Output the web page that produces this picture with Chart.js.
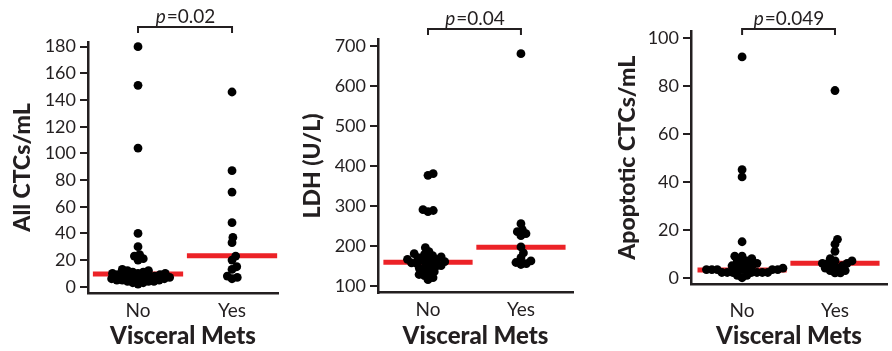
<!DOCTYPE html>
<html><head><meta charset="utf-8">
<script src="https://cdn.jsdelivr.net/npm/chart.js@4/dist/chart.umd.min.js"></script>
<style>
html,body{margin:0;padding:0;background:#fff;}
#wrap{position:relative;width:892px;height:351px;overflow:hidden;background:#fff;}
.p{position:absolute;top:0;height:351px;}
</style></head><body>
<div id="wrap">
<div class="p" style="left:0;width:290px"><canvas id="c1"></canvas></div>
<div class="p" style="left:290px;width:310px"><canvas id="c2"></canvas></div>
<div class="p" style="left:600px;width:292px"><canvas id="c3"></canvas></div>
</div>
<script>
// ---- data ----
const categories = ['No', 'Yes'];
const xTitle = 'Visceral Mets';

const allCtcNo = [180, 151, 104, 40, 30, 24, 23, 21, 20, 13, 12, 12, 11, 11, 10, 10, 10, 9, 9, 9, 8, 8, 8, 7, 7, 7, 6, 6, 6, 5, 5, 5, 4, 4, 4, 3, 3, 2];
const allCtcYes = [146, 87, 71, 48, 37, 33, 23, 20, 15, 13, 8, 7, 6];
const allCtcMedian = [9.5, 23.3];
const allCtcTicks = [0, 20, 40, 60, 80, 100, 120, 140, 160, 180];

const ldhNo = [380, 376, 290, 288, 285, 195, 185, 180, 178, 175, 172, 170, 168, 166, 165, 163, 160, 158, 157, 155, 153, 150, 148, 145, 143, 140, 135, 132, 128, 125, 120, 115];
const ldhYes = [680, 255, 240, 235, 230, 225, 197, 182, 170, 162, 158, 155, 153];
const ldhMedian = [158.5, 196];
const ldhTicks = [100, 200, 300, 400, 500, 600, 700];

const apoNo = [92, 45, 42, 15, 9, 9, 8, 7, 7, 6, 6, 5, 5, 4, 4, 4, 3.4, 3.4, 3.4, 3.4, 3.4, 3.4, 2.2, 2.2, 2.2, 2.2, 2.2, 2.2, 2.2, 1, 1, 0];
const apoYes = [78, 16, 14, 11, 8, 7, 7, 6, 6, 6, 5, 5, 4, 4, 3, 3, 2, 2];
const apoMedian = [3.2, 6];
const apoTicks = [0, 20, 40, 60, 80, 100];

const pValues = ['0.02', '0.04', '0.049'];
const yTitles = ['All CTCs/mL', 'LDH (U/L)', 'Apoptotic CTCs/mL'];

// ---- styling / layout ----
const INK = '#231f20';
const RED = '#ec2227';
const FONT = 'Lato, "Open Sans", sans-serif';
const TITLE_FONT = '"Lato Black", "Lato Heavy", Lato, "Open Sans", sans-serif';
const DOT_R = 4.4;
const SWARM_D = 5.4;
const MED_HALF = 0.48;

const panels = [
  {id:'c1', no:allCtcNo, yes:allCtcYes, med:allCtcMedian, ticks:allCtcTicks, yMin:-4.7, yMax:183.5,
   xMin:0.468, xMax:2.489, axisW:88, padTop:42, padRight:12, xAxisH:58, xTickPad:6, yTitlePad:9,
   p:pValues[0], title:yTitles[0], bracketY:27},
  {id:'c2', no:ldhNo, yes:ldhYes, med:ldhMedian, ticks:ldhTicks, yMin:82.5, yMax:716,
   xMin:0.462, xMax:2.56, axisW:88, padTop:39.3, padRight:27, xAxisH:58.3, xTickPad:6, yTitlePad:9,
   p:pValues[1], title:yTitles[1], bracketY:29},
  {id:'c3', no:apoNo, yes:apoYes, med:apoMedian, ticks:apoTicks, yMin:-2.6, yMax:102.5,
   xMin:0.45, xMax:2.56, axisW:91, padTop:31.7, padRight:5, xAxisH:67, xTickPad:15, yTitlePad:14,
   p:pValues[2], title:yTitles[2], bracketY:29}
];

function swarm(values, center, xs, ys, d) {
  const order = values.map((v, i) => i).sort((a, b) => values[a] - values[b]);
  const placed = [];
  const cx = xs.getPixelForValue(center);
  const out = new Array(values.length);
  for (const i of order) {
    const py = ys.getPixelForValue(values[i]);
    const cands = [0];
    for (const p of placed) {
      const dy = Math.abs(p.py - py);
      if (dy < d) {
        const dx = Math.sqrt(d * d - dy * dy);
        cands.push(p.ox + dx + 0.01, p.ox - dx - 0.01);
      }
    }
    cands.sort((a, b) => Math.abs(a) - Math.abs(b));
    let ox = 0;
    for (const c of cands) {
      if (placed.every(p => (p.ox - c) ** 2 + (p.py - py) ** 2 >= d * d - 0.02)) { ox = c; break; }
    }
    placed.push({ox, py});
    out[i] = {x: xs.getValueForPixel(cx + ox), y: values[i]};
  }
  return out;
}

const bracketPlugin = {
  id: 'bracket',
  afterDraw(chart, args, opts) {
    const ctx = chart.ctx;
    const xs = chart.scales.x;
    const x1 = xs.getPixelForValue(1), x2 = xs.getPixelForValue(2);
    const yb = opts.y;
    ctx.save();
    ctx.strokeStyle = INK;
    ctx.lineWidth = 2;
    ctx.beginPath();
    ctx.moveTo(x1, yb + 6); ctx.lineTo(x1, yb); ctx.lineTo(x2, yb); ctx.lineTo(x2, yb + 6);
    ctx.stroke();
    ctx.fillStyle = INK;
    ctx.textBaseline = 'alphabetic';
    const fItal = 'italic 19px ' + FONT, fReg = '19px ' + FONT;
    ctx.font = fItal; const w1 = ctx.measureText('p').width;
    ctx.font = fReg; const w2 = ctx.measureText('=' + opts.text).width;
    let sx = (x1 + x2) / 2 - (w1 + w2) / 2;
    ctx.textAlign = 'left';
    ctx.font = fItal; ctx.fillText('p', sx, yb - 4);
    ctx.font = fReg; ctx.fillText('=' + opts.text, sx + w1 + 1, yb - 4);
    ctx.restore();
  }
};

function medLine(center, v) {
  return [{x: center - MED_HALF, y: v}, {x: center + MED_HALF, y: v}];
}

for (const P of panels) {
  const chart = new Chart(document.getElementById(P.id), {
    type: 'scatter',
    data: {
      datasets: [
        {type:'line', data: medLine(1, P.med[0]), borderColor: RED, borderWidth: 5, pointRadius: 0, order: 2, borderCapStyle: 'butt', clip: false},
        {type:'line', data: medLine(2, P.med[1]), borderColor: RED, borderWidth: 5, pointRadius: 0, order: 2, borderCapStyle: 'butt', clip: false},
        {type:'scatter', data: P.no.map(v => ({x: 1, y: v})), backgroundColor: '#000', borderColor: '#000', borderWidth: 0, pointRadius: DOT_R, order: 1, clip: false},
        {type:'scatter', data: P.yes.map(v => ({x: 2, y: v})), backgroundColor: '#000', borderColor: '#000', borderWidth: 0, pointRadius: DOT_R, order: 1, clip: false}
      ]
    },
    options: {
      animation: false,
      responsive: true,
      maintainAspectRatio: false,
      events: [],
      layout: {padding: {top: P.padTop, right: P.padRight, left: 0, bottom: 0}},
      plugins: {legend: {display: false}, tooltip: {enabled: false}, bracket: {y: P.bracketY, text: P.p}},
      scales: {
        x: {
          type: 'linear', min: P.xMin, max: P.xMax,
          afterBuildTicks: s => { s.ticks = [{value: 1}, {value: 2}]; },
          afterFit: s => { s.height = P.xAxisH; },
          ticks: {callback: v => categories[Math.round(v) - 1], font: {family: FONT, size: 19}, color: INK, padding: P.xTickPad, maxRotation: 0, autoSkip: false},
          grid: {display: false, drawTicks: false, tickLength: 0},
          border: {display: true, color: INK, width: 2.5},
          title: {display: true, text: xTitle, color: INK, font: {family: TITLE_FONT, size: 24, weight: 900}, padding: {top: 0, bottom: 0}}
        },
        y: {
          type: 'linear', min: P.yMin, max: P.yMax,
          afterBuildTicks: s => { s.ticks = P.ticks.map(v => ({value: v})); },
          afterFit: s => { s.width = P.axisW; },
          ticks: {font: {family: FONT, size: 18}, color: INK, padding: 4, autoSkip: false},
          grid: {display: true, drawOnChartArea: false, drawTicks: true, tickLength: 8, color: INK, tickColor: INK, lineWidth: 2},
          border: {display: true, color: INK, width: 2.5},
          title: {display: true, text: P.title, color: INK, font: {family: TITLE_FONT, size: 23, weight: 900}, padding: {top: P.yTitlePad, bottom: 0}}
        }
      }
    },
    plugins: [bracketPlugin]
  });
  const xs = chart.scales.x, ys = chart.scales.y;
  chart.data.datasets[2].data = swarm(P.no, 1, xs, ys, SWARM_D);
  chart.data.datasets[3].data = swarm(P.yes, 2, xs, ys, SWARM_D);
  chart.update('none');
}
</script>
</body></html>
